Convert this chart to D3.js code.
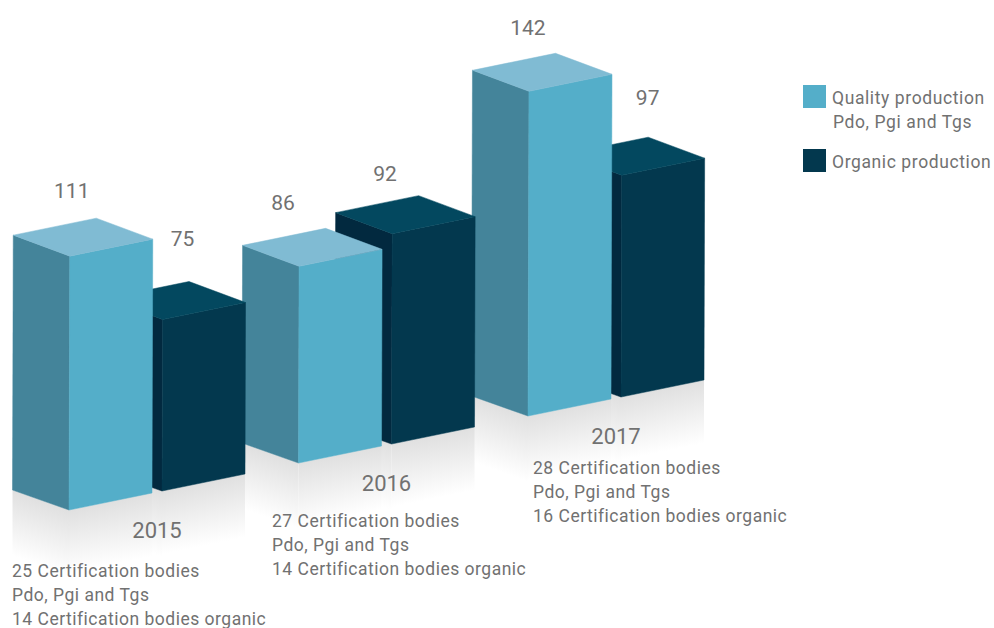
<!DOCTYPE html>
<html>
<head>
<meta charset="utf-8">
<script src="https://cdn.jsdelivr.net/npm/d3@7"></script>
<style>
  html, body { margin: 0; padding: 0; background: #fff; }
  svg { display: block; }
  text { font-family: "Roboto", sans-serif; fill: #717171; }
</style>
</head>
<body>
<div id="chart"></div>
<script>
// ── Data ────────────────────────────────────────────────────────────────
const years   = ["2015", "2016", "2017"];
const quality = [111, 86, 142];
const organic = [75, 92, 97];
const notes = [
  ["25 Certification bodies", "Pdo, Pgi and Tgs", "14 Certification bodies organic"],
  ["27 Certification bodies", "Pdo, Pgi and Tgs", "14 Certification bodies organic"],
  ["28 Certification bodies", "Pdo, Pgi and Tgs", "16 Certification bodies organic"],
];
const legendLabels = [["Quality production", "Pdo, Pgi and Tgs"], ["Organic production"]];

// ── Layout ──────────────────────────────────────────────────────────────
const W = 994, H = 628;
const colors = {
  quality: { front: "#54aec9", left: "#44849a", top: "#80bbd3" },
  organic: { front: "#03384e", left: "#02293f", top: "#03485f" },
};
// Ground position of a bar's front corner, by year index
const groupX = d3.scaleLinear().domain([0, 2]).range([69, 528]);
const groupY = d3.scaleLinear().domain([0, 2]).range([510, 416]);
const height = d3.scaleLinear().domain([0, 150]).range([0, 343]);

const organicShift = { x: 93, y: -19 };
const edgeLeft  = { x: -56.5, y: -20 };
const edgeRight = { x: 83, y: -17 };
const lean = 0.003;             // bars lean slightly right towards the top
const topRise = 1;              // far corners of the top sit a touch higher
const mirror = 78;              // length of the floor reflection
const fadeLength = 62;

// Value label offset from the bar's top front corner
const valueNudge = {
  quality: [{ x: 2, y: -58 }, { x: -16, y: -56 }, { x: -1, y: -56 }],
  organic: [{ x: 20, y: -74 }, { x: -7, y: -53 }, { x: 26, y: -70 }],
};
const noteX = [12, 272, 533];
const noteY = [577, 527, 474];

const svg = d3.select("#chart").append("svg").attr("width", W).attr("height", H);
const defs = svg.append("defs");

const poly = pts => pts.map(p => `${p.x},${p.y}`).join(" ");

function barGeometry(i, series) {
  const value = series === "quality" ? quality[i] : organic[i];
  const off = series === "quality" ? { x: 0, y: 0 } : organicShift;
  const x = groupX(i) + off.x, y = groupY(i) + off.y, h = height(value);
  const bottom = {
    front: { x, y },
    left:  { x: x + edgeLeft.x, y: y + edgeLeft.y },
    right: { x: x + edgeRight.x, y: y + edgeRight.y },
  };
  const up = p => ({ x: p.x + h * lean, y: p.y - h });
  const top = { front: up(bottom.front), left: up(bottom.left), right: up(bottom.right) };
  top.left.y -= topRise;
  top.back = { x: top.left.x + edgeRight.x, y: top.left.y + edgeRight.y };
  return { bottom, top, value, series, i };
}

// Nearest bars are painted last
const bars = [];
d3.range(years.length).reverse().forEach(i => {
  bars.push(barGeometry(i, "organic"));
  bars.push(barGeometry(i, "quality"));
});

// ── Floor reflections ───────────────────────────────────────────────────
// Each fade runs square to the bottom edge it hangs from.
function reflectEdge(layer, id, a, b) {
  const dx = b.x - a.x, dy = b.y - a.y, len = Math.hypot(dx, dy);
  const nx = Math.abs(dy) / len * (dy < 0 ? 1 : -1), ny = Math.abs(dx) / len;
  const g = defs.append("linearGradient").attr("id", id)
    .attr("gradientUnits", "userSpaceOnUse")
    .attr("x1", a.x).attr("y1", a.y)
    .attr("x2", a.x + nx * fadeLength).attr("y2", a.y + ny * fadeLength);
  g.append("stop").attr("offset", 0).attr("stop-color", "#e0e0e0");
  g.append("stop").attr("offset", 1).attr("stop-color", "#ffffff");
  layer.append("polygon")
    .attr("points", poly([a, b, { x: b.x, y: b.y + mirror }, { x: a.x, y: a.y + mirror }]))
    .attr("fill", `url(#${id})`);
}

const reflections = svg.append("g");
bars.forEach((b, n) => {
  reflectEdge(reflections, `fade-left-${n}`, b.bottom.left, b.bottom.front);
  reflectEdge(reflections, `fade-front-${n}`, b.bottom.front, b.bottom.right);
});

// ── Bars ────────────────────────────────────────────────────────────────
const barLayer = svg.append("g");
bars.forEach(b => {
  const c = colors[b.series];
  const g = barLayer.append("g").attr("stroke-width", 0.5).attr("stroke-linejoin", "round");
  g.append("polygon").attr("fill", c.left).attr("stroke", c.left)
    .attr("points", poly([b.bottom.left, b.bottom.front, b.top.front, b.top.left]));
  g.append("polygon").attr("fill", c.front).attr("stroke", c.front)
    .attr("points", poly([b.bottom.front, b.bottom.right, b.top.right, b.top.front]));
  g.append("polygon").attr("fill", c.top).attr("stroke", c.top)
    .attr("points", poly([b.top.left, b.top.front, b.top.right, b.top.back]));

  const nudge = valueNudge[b.series][b.i];
  svg.append("text")
    .attr("x", b.top.front.x + nudge.x)
    .attr("y", b.top.front.y + nudge.y)
    .attr("text-anchor", "middle")
    .attr("font-size", 21)
    .text(b.value);
});

// ── Year labels and notes ───────────────────────────────────────────────
years.forEach((year, i) => {
  svg.append("text")
    .attr("x", groupX(i) + 88)
    .attr("y", groupY(i) + 28)
    .attr("text-anchor", "middle")
    .attr("font-size", 22)
    .text(year);

  notes[i].forEach((line, j) => {
    svg.append("text")
      .attr("x", noteX[i])
      .attr("y", noteY[i] + j * 24)
      .attr("font-size", 17.5)
      .attr("letter-spacing", 0.5)
      .text(line);
  });
});

// ── Legend ──────────────────────────────────────────────────────────────
const swatches = [
  { color: colors.quality.front, y: 85 },
  { color: colors.organic.front, y: 149 },
];
swatches.forEach((s, i) => {
  svg.append("rect")
    .attr("x", 803).attr("y", s.y)
    .attr("width", 23).attr("height", 23)
    .attr("fill", s.color);
  legendLabels[i].forEach((line, j) => {
    svg.append("text")
      .attr("x", j ? 833 : 832)
      .attr("y", s.y + 19 + j * 24)
      .attr("font-size", 17.5)
      .attr("letter-spacing", 0.6)
      .text(line);
  });
});
</script>
</body>
</html>
